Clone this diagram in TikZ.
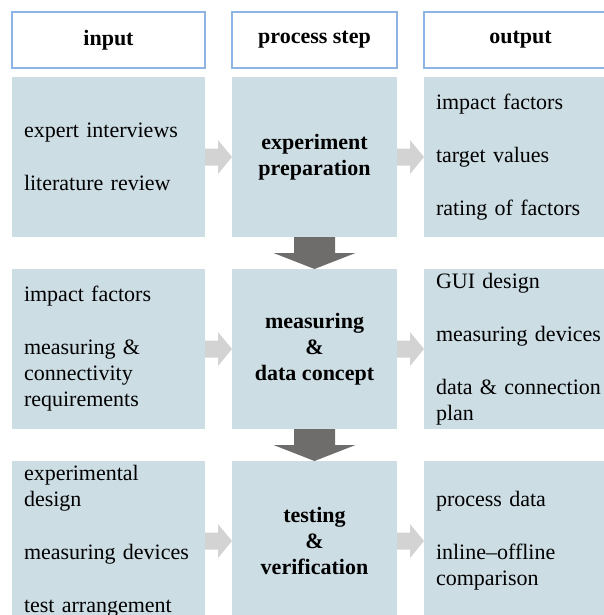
\documentclass[tikz,border=0pt]{standalone}
\usepackage{fontspec}
\setmainfont{Liberation Serif}
\usetikzlibrary{positioning}

\definecolor{cellblue}{RGB}{205,221,228}
\definecolor{hdrline}{RGB}{141,180,226}
\definecolor{darkarrow}{RGB}{111,108,108}
\definecolor{lightarrow}{RGB}{211,211,211}

\begin{document}
\begin{tikzpicture}[
    node distance=27pt,
    font=\fontsize{22pt}{26pt}\selectfont,
    hdr/.style={draw=hdrline, line width=1.3pt, rectangle, minimum height=56pt, outer sep=0pt, font=\fontsize{22pt}{26pt}\selectfont\bfseries},
    cell/.style={fill=cellblue, rectangle, minimum height=160pt, outer sep=0pt, inner ysep=0pt},
    side/.style={cell, minimum width=193pt, text width=169pt, inner xsep=12pt, align=left},
    stepbox/.style={cell, minimum width=165pt, align=center, font=\fontsize{22pt}{26pt}\selectfont\bfseries},
    harrow/.style={fill=lightarrow},
    varrow/.style={fill=darkarrow}
]
\useasboundingbox (0pt,0pt) rectangle (604pt,-615pt);
\clip (0pt,0pt) rectangle (604pt,-615pt);

% column heads
\node[hdr, minimum width=193pt] (hin) at (108.5pt,-40pt) {input};
\node[hdr, minimum width=165pt, right=of hin] (hproc) {process step};
\node[hdr, minimum width=193pt, right=of hproc] (hout) {output};

% first row
\node[side, below=9pt of hin] (in1) {expert interviews\\[27pt]literature review};
\node[stepbox, below=9pt of hproc] (proc1) {experiment\\preparation};
\node[side, below=9pt of hout] (out1) {impact factors\\[27pt]target values\\[27pt]rating of factors};

% second row
\node[side, below=32pt of in1] (in2) {impact factors\\[27pt]measuring \&\\connectivity\\requirements};
\node[stepbox, below=32pt of proc1] (proc2) {measuring\\\&\\data concept};
\node[side, below=32pt of out1] (out2) {GUI design\\[27pt]measuring devices\\[27pt]data \& connection\\plan};

% third row
\node[side, below=32pt of in2] (in3) {experimental\\design\\[27pt]measuring devices\\[27pt]test arrangement};
\node[stepbox, below=32pt of proc2] (proc3) {testing\\\&\\verification};
\node[side, below=32pt of out2] (out3) {process data\\[27pt]inline--offline\\comparison};

% block arrows
\foreach \a/\b in {in1/proc1, proc1/out1, in2/proc2, proc2/out2, in3/proc3, proc3/out3}
  \fill[harrow] ([yshift=8.5pt]\a.east) -- ++(13pt,0pt) -- ++(0pt,8.5pt) -- (\b.west)
    -- ([shift={(13pt,-17pt)}]\a.east) -- ++(0pt,8.5pt) -- ([yshift=-8.5pt]\a.east) -- cycle;
\foreach \a/\b in {proc1/proc2, proc2/proc3}
  \fill[varrow] ([xshift=-20.5pt]\a.south) -- ++(0pt,-16pt) -- ++(-20.5pt,0pt) -- (\b.north)
    -- ([shift={(41pt,-16pt)}]\a.south) -- ++(-20.5pt,0pt) -- ([xshift=20.5pt]\a.south) -- cycle;
\end{tikzpicture}
\end{document}
